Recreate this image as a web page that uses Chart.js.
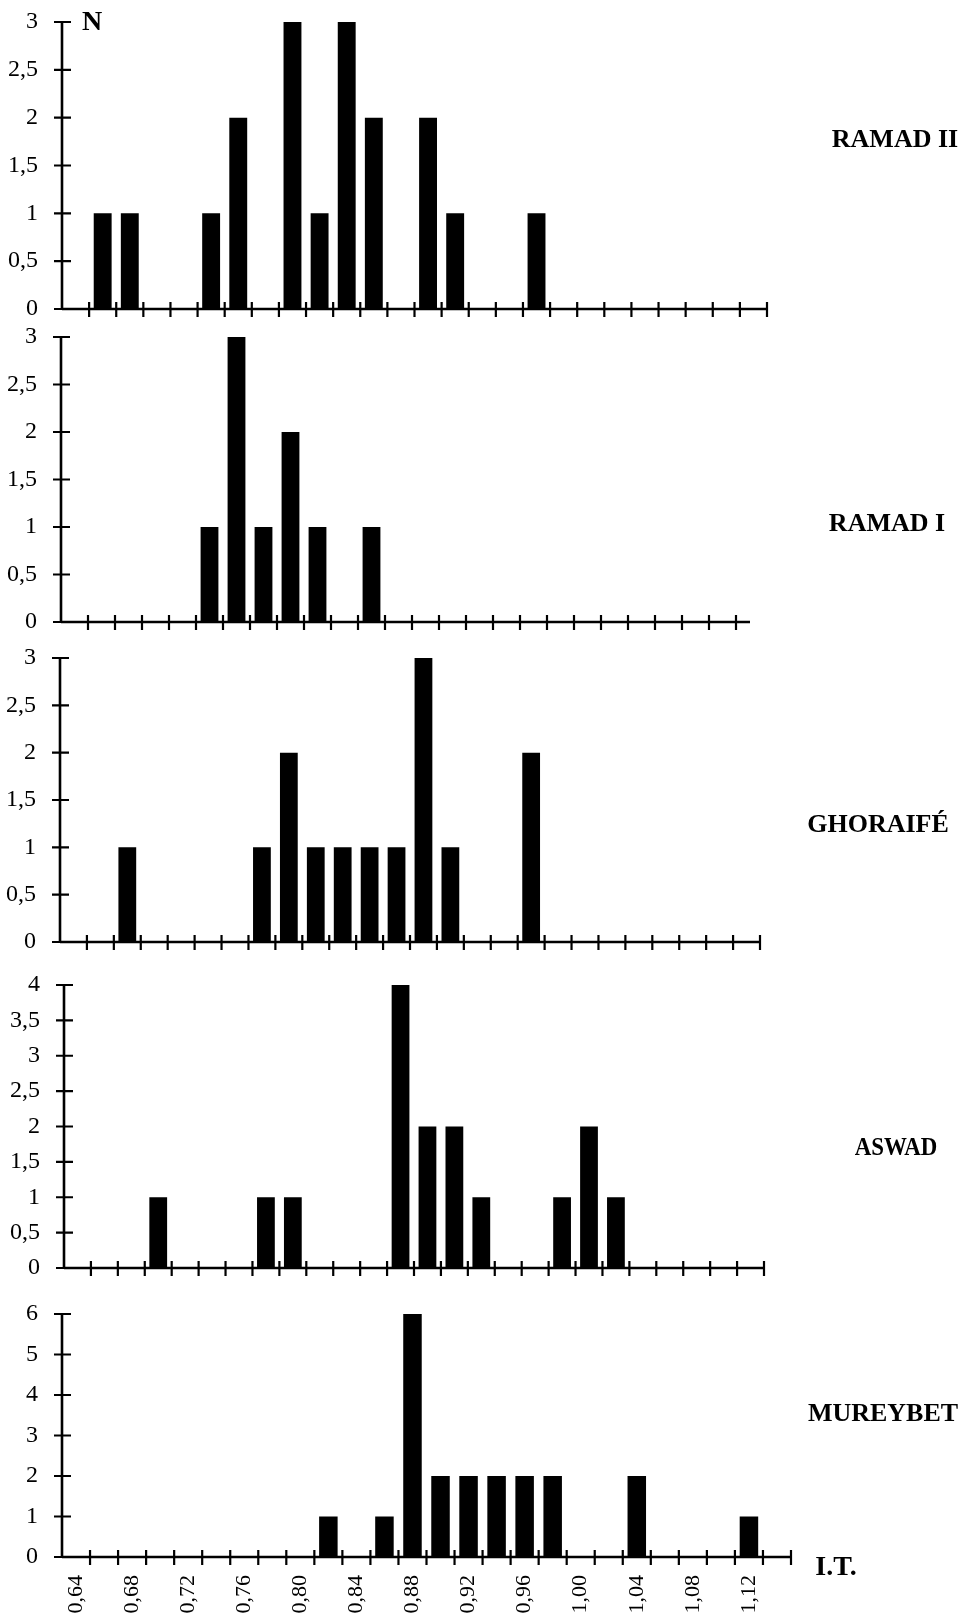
<!DOCTYPE html>
<html>
<head>
<meta charset="utf-8">
<script src="https://cdn.jsdelivr.net/npm/chart.js@4.4.1/dist/chart.umd.min.js"></script>
<style>
  html, body { margin: 0; padding: 0; background: #fff; }
  #page { position: relative; width: 976px; height: 1620px; overflow: hidden; background: #fff; }
  #page canvas { position: absolute; left: 0; }
  .lbl {
    position: absolute;
    font-family: 'Liberation Serif', 'Times New Roman', serif;
    font-weight: bold;
    font-size: 26px;
    line-height: 1;
    color: #000;
    white-space: nowrap;
    transform: translate(-50%, -50%);
  }
</style>
</head>
<body>
<div id="page"></div>

<script>
// Classes de l'indice (I.T.), pas de 0,02
const bins26 = ['0,64', '0,66', '0,68', '0,70', '0,72', '0,74', '0,76', '0,78', '0,80',
                '0,82', '0,84', '0,86', '0,88', '0,90', '0,92', '0,94', '0,96', '0,98',
                '1,00', '1,02', '1,04', '1,06', '1,08', '1,10', '1,12', '1,14'];
const bins25 = bins26.slice(0, 25);

// Effectifs (N) par classe
const ramadII  = [0, 1, 1, 0, 0, 1, 2, 0, 3, 1, 3, 2, 0, 2, 1, 0, 0, 1, 0, 0, 0, 0, 0, 0, 0, 0];
const ramadI   = [0, 0, 0, 0, 0, 1, 3, 1, 2, 1, 0, 1, 0, 0, 0, 0, 0, 0, 0, 0, 0, 0, 0, 0, 0];
const ghoraife = [0, 0, 1, 0, 0, 0, 0, 1, 2, 1, 1, 1, 1, 3, 1, 0, 0, 2, 0, 0, 0, 0, 0, 0, 0, 0];
const aswad    = [0, 0, 0, 1, 0, 0, 0, 1, 1, 0, 0, 0, 4, 2, 2, 1, 0, 0, 1, 2, 1, 0, 0, 0, 0, 0];
const mureybet = [0, 0, 0, 0, 0, 0, 0, 0, 0, 1, 0, 1, 6, 2, 2, 2, 2, 2, 0, 0, 2, 0, 0, 0, 1, 0];

// Mise en page des 5 panneaux (pixels de la page)
const panels = [
    { name: 'RAMAD II', values: ramadII, labels: bins26, yMax: 3, yStep: 0.5,
      left: 62, right: 767, top: 22, bottom: 309, lx: 895, ly: 139 },
    { name: 'RAMAD I', values: ramadI, labels: bins25, yMax: 3, yStep: 0.5,
      left: 61, right: 736, top: 337, bottom: 622, overhang: 14, lx: 887, ly: 523 },
    { name: 'GHORAIFÉ', values: ghoraife, labels: bins26, yMax: 3, yStep: 0.5,
      left: 60, right: 760, top: 658, bottom: 942, lx: 878, ly: 824 },
    { name: 'ASWAD', values: aswad, labels: bins26, yMax: 4, yStep: 0.5,
      left: 64, right: 764, top: 985, bottom: 1268, lx: 896, ly: 1147, squeeze: 0.88 },
    { name: 'MUREYBET', values: mureybet, labels: bins26, yMax: 6, yStep: 1,
      left: 62, right: 791, top: 1314, bottom: 1557, showX: true, lx: 883, ly: 1413 }
];

const PAGE_W = 976;
const PAGE_H = 1620;
const PAD_TOP = 20;
const serif = "'Liberation Serif', 'Times New Roman', serif";

// Axes en croix : traits de graduation de part et d'autre des axes
const crossAxes = {
    id: 'crossAxes',
    afterDatasetsDraw(chart, args, opts) {
        const ctx = chart.ctx;
        const x = chart.scales.x;
        const y = chart.scales.y;
        const x0 = x.left;
        const y0 = y.getPixelForValue(0);
        ctx.save();
        ctx.strokeStyle = '#000';
        ctx.lineWidth = 2.6;
        ctx.beginPath();
        ctx.moveTo(x0, y.getPixelForValue(y.max));
        ctx.lineTo(x0, y0);
        ctx.moveTo(x0, y0);
        ctx.lineTo(x.right + (opts.overhang || 0), y0);
        ctx.stroke();

        ctx.lineWidth = 2.2;
        ctx.beginPath();
        y.ticks.forEach(t => {
            const py = y.getPixelForValue(t.value);
            ctx.moveTo(x0 - 8, py);
            ctx.lineTo(x0 + 9, py);
        });
        const n = chart.data.labels.length;
        for (let i = 1; i <= n; i++) {
            const px = x.getPixelForValue(i - 0.5);
            ctx.moveTo(px, y0 - 7);
            ctx.lineTo(px, y0 + 8);
        }
        ctx.stroke();
        ctx.restore();
    }
};

function addLabel(text, cx, cy, size, squeeze) {
    const d = document.createElement('div');
    d.className = 'lbl';
    d.textContent = text;
    d.style.left = cx + 'px';
    d.style.top = cy + 'px';
    if (size) d.style.fontSize = size + 'px';
    if (squeeze) d.style.transform = 'translate(-50%, -50%) scaleX(' + squeeze + ')';
    document.getElementById('page').appendChild(d);
}

function makePanel(p, idx) {
    const canvasTop = p.top - PAD_TOP;
    const canvasH = p.showX ? PAGE_H - canvasTop : (p.bottom - p.top) + PAD_TOP + 16;
    const xAxisH = canvasH - PAD_TOP - (p.bottom - p.top);

    const canvas = document.createElement('canvas');
    canvas.id = 'panel' + idx;
    canvas.width = PAGE_W;
    canvas.height = canvasH;
    canvas.style.top = canvasTop + 'px';
    document.getElementById('page').appendChild(canvas);

    new Chart(canvas.getContext('2d'), {
        type: 'bar',
        data: {
            labels: p.labels,
            datasets: [{
                label: p.name,
                data: p.values,
                backgroundColor: '#000',
                borderWidth: 0,
                barPercentage: 0.66,
                categoryPercentage: 1.0
            }]
        },
        options: {
            responsive: false,
            maintainAspectRatio: false,
            animation: false,
            events: [],
            layout: {
                padding: { top: PAD_TOP, left: 0, bottom: 0, right: PAGE_W - p.right }
            },
            plugins: {
                legend: { display: false },
                tooltip: { enabled: false },
                crossAxes: { overhang: p.overhang || 0 }
            },
            scales: {
                x: {
                    type: 'category',
                    offset: true,
                    // le trait de graduation (invisible) sert d'écart pour les étiquettes
                    grid: { display: false, drawTicks: true, tickLength: 18, offset: true },
                    border: { display: false },
                    ticks: {
                        display: !!p.showX,
                        autoSkip: false,
                        minRotation: 90,
                        maxRotation: 90,
                        padding: 0,
                        color: '#000',
                        font: { family: serif, size: 22 },
                        callback: function(val, i) {
                            return i % 2 === 0 ? this.getLabelForValue(val) : '';
                        }
                    },
                    afterFit: s => {
                        s.height = xAxisH;
                        s.paddingLeft = 0;
                        s.paddingRight = 0;
                    }
                },
                y: {
                    min: 0,
                    max: p.yMax,
                    grid: { display: false, drawTicks: true, tickLength: 24 },
                    border: { display: false },
                    ticks: {
                        stepSize: p.yStep,
                        padding: 0,
                        color: '#000',
                        font: { family: serif, size: 24 },
                        callback: v => String(v).replace('.', ',')
                    },
                    afterFit: s => {
                        s.width = p.left;
                        s.paddingTop = 0;
                        s.paddingBottom = 0;
                    }
                }
            }
        },
        plugins: [crossAxes]
    });

    addLabel(p.name, p.lx, p.ly, null, p.squeeze);
}

panels.forEach(makePanel);

addLabel('N', 92, 21, 28);
addLabel('I.T.', 836, 1566, 28);
</script>
</body>
</html>
